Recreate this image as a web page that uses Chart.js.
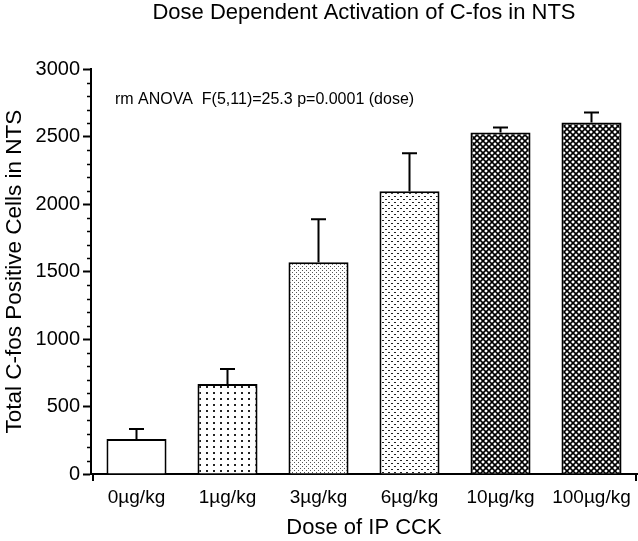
<!DOCTYPE html>
<html>
<head>
<meta charset="utf-8">
<script src="https://cdn.jsdelivr.net/npm/chart.js@4"></script>
<style>
  html, body { margin: 0; padding: 0; background: #fff; }
</style>
</head>
<body>
<canvas id="myChart" width="638" height="541"></canvas>
<script>
// ===== data =====
const doses = ["0\u00b5g/kg", "1\u00b5g/kg", "3\u00b5g/kg", "6\u00b5g/kg", "10\u00b5g/kg", "100\u00b5g/kg"];
const cellCounts = [259, 667, 1570, 2096, 2533, 2607];
const cellSem = [74, 111, 319, 282, 37, 74];
const yTicks = [0, 500, 1000, 1500, 2000, 2500, 3000];
const statsNote = "rm ANOVA  F(5,11)=25.3 p=0.0001 (dose)";

Chart.defaults.font.family = "'Liberation Sans', Arial, sans-serif";
Chart.defaults.color = "#000";

const canvas = document.getElementById("myChart");
const ctx = canvas.getContext("2d");

// ===== fill patterns =====
function makePattern(w, h, draw) {
  const c = document.createElement("canvas");
  c.width = w;
  c.height = h;
  const g = c.getContext("2d");
  g.fillStyle = "#fff";
  g.fillRect(0, 0, w, h);
  g.fillStyle = "#000";
  g.strokeStyle = "#000";
  draw(g);
  return ctx.createPattern(c, "repeat");
}

const sparseDots = makePattern(7, 6, function(g) {
  g.fillStyle = "#222";
  g.fillRect(3, 2, 2, 2);
});
const fineDots = makePattern(4, 4, function(g) {
  g.fillStyle = "#555";
  g.fillRect(0, 0, 1, 1);
  g.fillRect(2, 2, 1, 1);
});
const mediumDots = makePattern(6, 6, function(g) {
  g.fillStyle = "#222";
  g.fillRect(1, 1, 2, 1);
  g.fillRect(4, 4, 2, 1);
});
const crossHatch = makePattern(6, 6, function(g) {
  g.lineWidth = 1.6;
  g.beginPath();
  g.moveTo(-1, -1); g.lineTo(7, 7);
  g.moveTo(7, -1); g.lineTo(-1, 7);
  g.stroke();
});

const barFills = ["#fff", sparseDots, fineDots, mediumDots, crossHatch, crossHatch];

// ===== plugins =====
const errorBars = {
  id: "errorBars",
  afterDatasetsDraw(chart) {
    const meta = chart.getDatasetMeta(0);
    const y = chart.scales.y;
    const c = chart.ctx;
    c.save();
    c.strokeStyle = "#000";
    c.lineWidth = 2;
    meta.data.forEach(function(bar, i) {
      const top = y.getPixelForValue(cellCounts[i] + cellSem[i]);
      c.beginPath();
      c.moveTo(bar.x, bar.y);
      c.lineTo(bar.x, top);
      c.moveTo(bar.x - 7.5, top);
      c.lineTo(bar.x + 7.5, top);
      c.stroke();
    });
    c.restore();
  }
};

// minor y ticks every 100 and the little end ticks on the x axis
const extraTicks = {
  id: "extraTicks",
  afterDraw(chart) {
    const y = chart.scales.y;
    const area = chart.chartArea;
    const c = chart.ctx;
    c.save();
    c.strokeStyle = "#000";
    c.lineWidth = 1.5;
    for (let v = 100; v < 3000; v += 100) {
      if (v % 500 === 0) continue;
      const py = Math.round(y.getPixelForValue(v)) + 0.5;
      c.beginPath();
      c.moveTo(y.right - 4, py);
      c.lineTo(y.right, py);
      c.stroke();
    }
    c.lineWidth = 2;
    c.beginPath();
    c.moveTo(area.left + 2, area.bottom);
    c.lineTo(area.left + 2, area.bottom + 7);
    c.moveTo(area.right - 1, area.bottom);
    c.lineTo(area.right - 1, area.bottom + 7);
    c.stroke();
    c.restore();
  }
};

const note = {
  id: "note",
  afterDraw(chart) {
    const c = chart.ctx;
    c.save();
    c.fillStyle = "#000";
    c.font = "16px 'Liberation Sans', Arial, sans-serif";
    c.textBaseline = "middle";
    c.fillText(statsNote, 115, 100);
    c.restore();
  }
};

// ===== chart =====
const chart = new Chart(ctx, {
  type: "bar",
  data: {
    labels: doses,
    datasets: [
      {
        label: "C-fos positive cells",
        data: cellCounts,
        backgroundColor: barFills,
        borderColor: "#000",
        borderWidth: 2,
        borderSkipped: "bottom",
        barPercentage: 0.66,
        categoryPercentage: 1
      }
    ]
  },
  options: {
    responsive: false,
    animation: false,
    layout: { padding: { left: 0, right: 1, top: 0, bottom: 0 } },
    plugins: {
      legend: { display: false },
      tooltip: { enabled: false },
      title: {
        display: true,
        text: "Dose Dependent Activation of C-fos in NTS",
        fullSize: false,
        color: "#000",
        font: { size: 22, weight: "normal" },
        padding: { top: 0, bottom: 43 }
      }
    },
    scales: {
      x: {
        grid: { display: false },
        border: { display: true, color: "#000", width: 2 },
        ticks: { font: { size: 19 }, padding: 4, color: "#000", maxRotation: 0 },
        title: {
          display: true,
          text: "Dose of IP CCK",
          font: { size: 22 },
          color: "#000",
          padding: { top: 0, bottom: 0 }
        },
        afterFit(scale) { scale.height = 67; }
      },
      y: {
        min: 0,
        max: 3000,
        afterBuildTicks(scale) {
          scale.ticks = yTicks.map(function(v) { return { value: v }; });
        },
        grid: {
          drawOnChartArea: false,
          tickLength: 8,
          tickWidth: 2,
          tickColor: "#000"
        },
        border: { display: true, color: "#000", width: 2 },
        ticks: {
          font: { size: 20 },
          padding: 3,
          color: "#000",
          callback: function(value) { return String(value); }
        },
        title: {
          display: true,
          text: "Total C-fos Positive Cells in NTS",
          font: { size: 22.5 },
          color: "#000",
          padding: { top: 1, bottom: 0 }
        },
        afterFit(scale) { scale.width = 91; }
      }
    }
  },
  plugins: [errorBars, extraTicks, note]
});
</script>
</body>
</html>
